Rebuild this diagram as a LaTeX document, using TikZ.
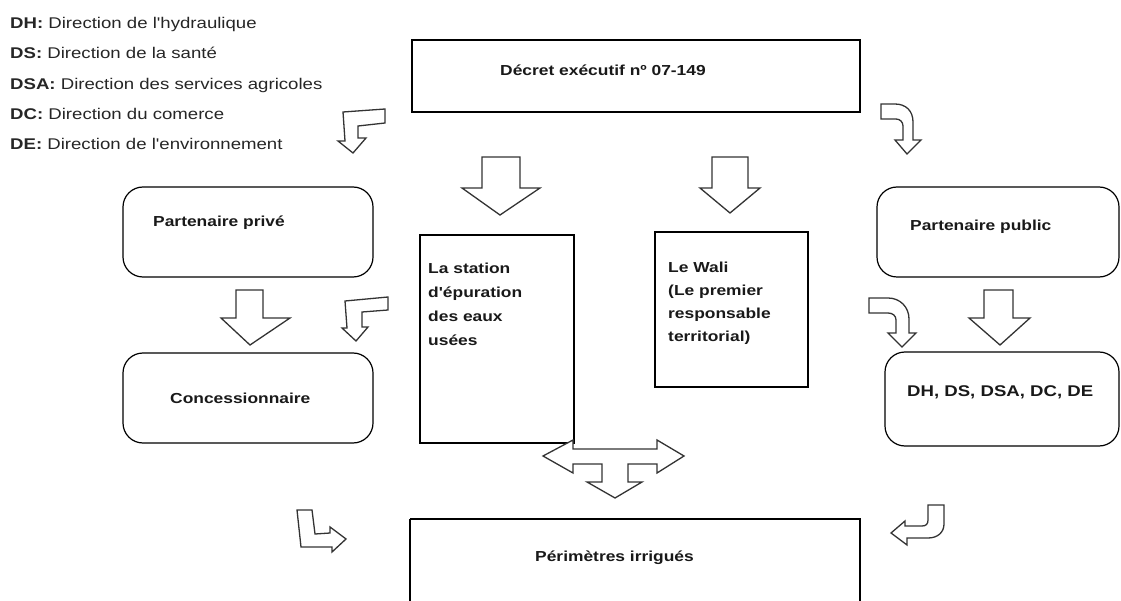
\documentclass[tikz,border=0pt]{standalone}
\usepackage{fontspec}
\newfontfamily\arialx{Liberation Sans}[FakeStretch=1.2]
\begin{document}
\begin{tikzpicture}[x=1pt,y=-1pt,
  box/.style={draw=black,line width=1.2pt},
  rbox/.style={draw=black,line width=1.2pt,rounded corners=20pt},
  blockarrow/.style={draw=black!80,line width=1.3pt,fill=white,line join=miter},
  lbl/.style={inner sep=0pt,font=\arialx\fontsize{14.5}{24}\selectfont\bfseries,text=black!90},
  leg/.style={inner sep=0pt,anchor=base west,font=\arialx\fontsize{15.5}{18}\selectfont,text=black!85}]
\useasboundingbox (0,0) rectangle (1121,601);
% legend
\node[leg] (l1) at (10,29) {\textbf{DH:} Direction de l'hydraulique};
\node[leg] (l2) at (10,59) {\textbf{DS:} Direction de la santé};
\node[leg] (l3) at (10,90) {\textbf{DSA:} Direction des services agricoles};
\node[leg] (l4) at (10,120) {\textbf{DC:} Direction du comerce};
\node[leg] (l5) at (10,150) {\textbf{DE:} Direction de l'environnement};
% boxes
\draw[box] (412,40) rectangle (860,112);
\node[lbl,anchor=west] (decret) at (500,70) {Décret exécutif nº 07-149};
\draw[rbox] (123,187) rectangle (373,277);
\node[lbl,anchor=west] (prive) at (153,223) {Partenaire privé};
\draw[rbox] (877,187) rectangle (1119,277);
\node[lbl,anchor=west] (public) at (910,227) {Partenaire public};
\draw[rbox] (123,353) rectangle (373,443);
\node[lbl,anchor=west] (conc) at (170,398) {Concessionnaire};
\draw[rbox] (885,352) rectangle (1119,446);
\node[lbl,anchor=west,font=\arialx\fontsize{15.5}{18}\selectfont\bfseries] (dirs) at (907,392) {DH, DS, DSA, DC, DE};
\draw[box] (420,235) rectangle (574,443);
\node[lbl,anchor=north west,align=left] (station) at (428,262.5) {La station\\d'épuration\\des eaux\\usées};
\draw[box] (655,232) rectangle (808,387);
\node[lbl,anchor=north west,align=left,font=\arialx\fontsize{14.5}{23}\selectfont\bfseries] (wali) at (668,261.5) {Le Wali\\(Le premier\\responsable\\territorial)};
\draw[box] (410,519) -- (860,519) -- (860,603) (410,603) -- (410,519);
\node[lbl,anchor=west] (perim) at (535,558) {Périmètres irrigués};
% straight down arrows
\draw[blockarrow] (482,157) -- (520,157) -- (520,188) -- (540,188) -- (500,215) -- (462,188) -- (482,188) -- cycle;
\draw[blockarrow] (712,157) -- (748,157) -- (748,188) -- (760,188) -- (730,213) -- (700,188) -- (712,188) -- cycle;
\draw[blockarrow] (236,290) -- (263,290) -- (263,318) -- (290,318) -- (250,345) -- (221,318) -- (236,318) -- cycle;
\draw[blockarrow] (984,290) -- (1013,290) -- (1013,318) -- (1030,318) -- (1000,345) -- (969,318) -- (984,318) -- cycle;
% L arrows
\draw[blockarrow] (343,112) -- (385,109) -- (385,123) -- (358,126) -- (358,138) -- (366,138) -- (353,153) -- (338,141) -- (345,141) -- cycle;
\draw[blockarrow] (345,301) -- (388,297) -- (388,310) -- (362,312) -- (362,327) -- (368,327) -- (356,341) -- (342,328) -- (347,328) -- cycle;
\draw[blockarrow] (297,510) -- (312,510) -- (315,534) -- (330,533) -- (330,527) -- (346,539) -- (332,552) -- (332,547) -- (301,547) -- cycle;
% curved arrows
\draw[blockarrow] (881,104) -- (895,104) .. controls (906,104) and (913,111) .. (913,122) -- (913,140) -- (921,140) -- (907,154) -- (895,140) -- (903,140) -- (903,126) .. controls (903,122) and (900,119) .. (896,119) -- (881,119) -- cycle;
\draw[blockarrow] (869,298) -- (888,298) .. controls (900,298) and (909,307) .. (909,319) -- (909,333) -- (916,333) -- (902,347) -- (888,333) -- (896,333) -- (896,320) .. controls (896,316) and (893,313) .. (888,313) -- (869,313) -- cycle;
\draw[blockarrow] (928,505) -- (944,505) -- (944,524) .. controls (944,532) and (938,538) .. (928,538) -- (907,538) -- (907,545) -- (891,533) -- (905,521) -- (905,526) -- (922,526) .. controls (926,526) and (928,524) .. (928,520) -- cycle;
% T arrow
\draw[blockarrow] (543,456) -- (573,440) -- (573,449) -- (657,449) -- (657,440) -- (684,456) -- (657,473) -- (657,464) -- (628,464) -- (628,482) -- (642,482) -- (615,498) -- (587,482) -- (602,482) -- (602,464) -- (573,464) -- (573,473) -- cycle;
\end{tikzpicture}
\end{document}
